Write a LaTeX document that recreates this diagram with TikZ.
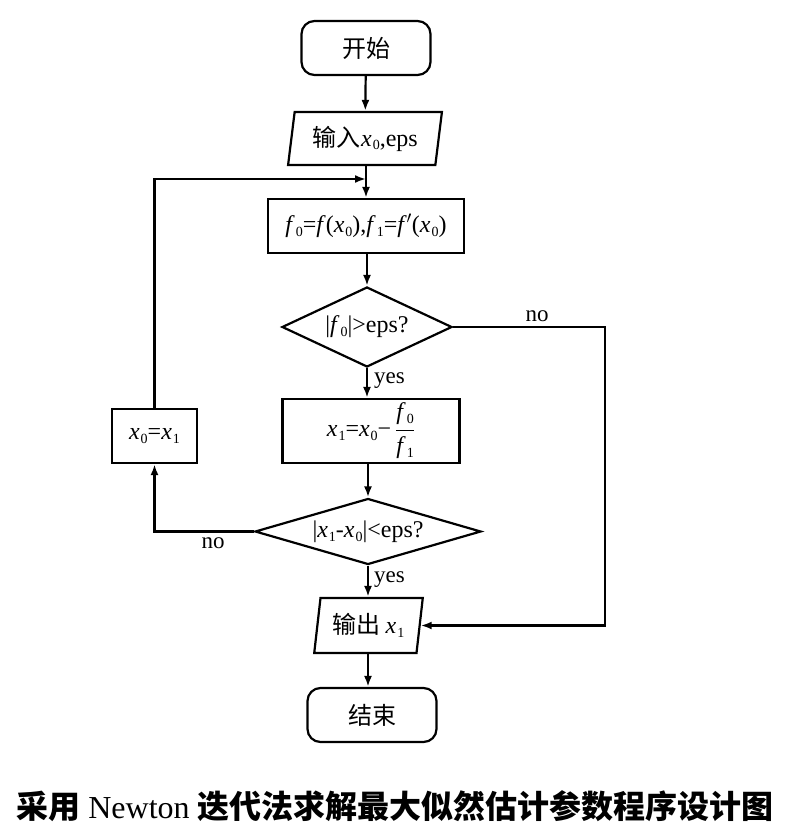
\documentclass[tikz,border=0pt]{standalone}
\usepackage{fontspec}
\setmainfont{Liberation Serif}
\newfontfamily\cjk{Noto Sans CJK SC}
\usetikzlibrary{shapes.geometric,arrows.meta}
\newcommand{\subd}[1]{\kern0.04em\raisebox{-0.35ex}{\fontsize{14}{14}\selectfont #1}}
\newcommand{\vx}[1]{\textit{x}\subd{#1}}
\newcommand{\vf}[1]{\textit{f}\subd{#1}}
\begin{document}
\begin{tikzpicture}[x=1pt,y=-1pt,
  every node/.style={font=\fontsize{24}{27}\selectfont, inner sep=0pt},
  box/.style={draw, line width=2.2pt, minimum width=#1},
  term/.style={draw, line width=2.2pt, rounded corners=13pt, minimum width=129pt, minimum height=54pt},
  io/.style={draw, line width=2.2pt, trapezium, trapezium left angle=79, trapezium right angle=101, trapezium stretches=true},
  dec/.style={draw, line width=2.2pt, diamond},
  arr/.style={line width=2.2pt, -{Latex[length=11pt,width=8pt]}},
  lab/.style={font=\fontsize{23}{26}\selectfont}
]
\useasboundingbox (0,0) rectangle (789,834);

\node[term] (start) at (366,48) {\cjk 开始};
\node[io, minimum width=154pt, minimum height=53pt] (in) at (365,138.5) {\cjk 输入\kern1pt\rmfamily\vx0,eps};
\node[box=196pt, minimum height=54pt] (fb) at (366,226) {\vf0=\textit{f}(\vx0),\vf1=\textit{f}$'$(\vx0)};
\node[dec, minimum width=170pt, minimum height=80pt] (d1) at (367,327) {};
\node (d1t) at (d1) {|\vf0|>eps?};
\node[box=177pt, minimum height=64pt] (xb) at (371,431) {\vx1=\vx0−\,$\displaystyle\frac{\mbox{\vf0}}{\mbox{\vf1}}$};
\node[dec, minimum width=226pt, minimum height=66pt] (d2) at (368,531.5) {};
\node (d2t) at (d2) {|\vx1-\vx0|<eps?};
\node[box=85pt, minimum height=54pt] (x0b) at (154.5,436) {\vx0=\vx1};
\node[io, minimum width=109pt, minimum height=55pt] (out) at (368.5,625.5) {\cjk 输出\kern5pt\rmfamily\vx1};
\node[term] (end) at (372,715) {\cjk 结束};

\coordinate (join) at (366,179);
\coordinate (rt) at (605,327);

\draw[arr] (start) -- (in);
\draw[arr] (in.south -| join) -- (fb.north -| join);
\draw[arr] (fb.south -| d1.north) -- (d1.north);
\draw[arr] (d1.south) -- (xb.north -| d1.south);
\draw[arr] (xb.south -| d2.north) -- (d2.north);
\draw[arr] (d2.south) -- (out.north -| d2.south);
\draw[arr] (out.south -| d2.south) -- (end.north -| d2.south);
\draw[arr] (d1.east) -- (rt) |- (out.east);
\draw[arr] (d2.west) -| (x0b.south);
\draw[arr] (x0b.north) |- (join);

\node[lab, anchor=west] (y1) at (374,381) {yes};
\node[lab, anchor=west] (y2) at (374,580) {yes};
\node[lab] (n1) at (537,316) {no};
\node[lab] (n2) at (213,543) {no};

\node[font=\fontsize{32}{36}\selectfont] (cap) at (395,806) {\cjk\bfseries 采用\kern8pt\rmfamily\mdseries Newton\kern8pt\cjk\bfseries 迭代法求解最大似然估计参数程序设计图};
\end{tikzpicture}
\end{document}
